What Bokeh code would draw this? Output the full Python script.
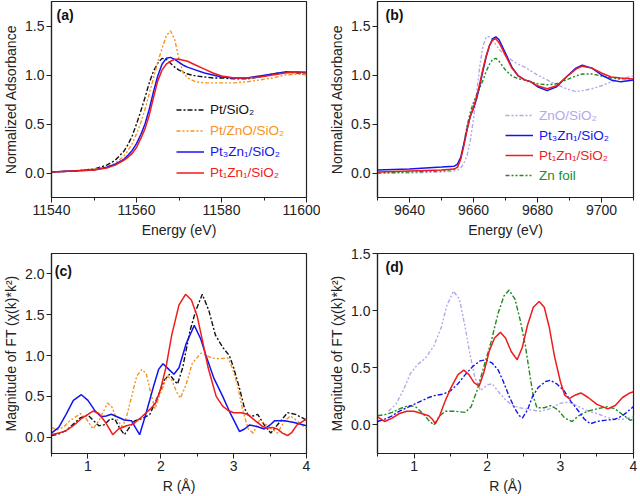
from bokeh.plotting import figure
from bokeh.models import Range1d, FixedTicker, NumeralTickFormatter, Legend, LegendItem, Label
from bokeh.layouts import gridplot
from bokeh.embed import file_html
from bokeh.resources import INLINE

FONT = "Liberation Sans"

# ---------------- Panel (a): Pt L3-edge XANES ----------------
ea = [11540, 11545, 11550, 11553, 11555, 11557, 11558, 11559, 11560, 11561, 11562, 11563,
      11564, 11565, 11566, 11567, 11568, 11569, 11570, 11571, 11572, 11574, 11576, 11578,
      11580, 11583, 11586, 11589, 11592, 11595, 11598, 11600]
a_pt = [0.01, 0.02, 0.04, 0.08, 0.13, 0.22, 0.29, 0.38, 0.50, 0.63, 0.77, 0.92,
        1.04, 1.12, 1.17, 1.16, 1.12, 1.08, 1.05, 1.03, 1.01, 0.99, 0.98, 0.97,
        0.97, 0.96, 0.96, 0.98, 1.01, 1.03, 1.02, 1.00]
a_ptzno = [0.01, 0.02, 0.04, 0.06, 0.10, 0.17, 0.23, 0.30, 0.40, 0.51, 0.65, 0.81,
           0.97, 1.13, 1.27, 1.40, 1.45, 1.36, 1.16, 1.02, 0.97, 0.93, 0.92, 0.92,
           0.92, 0.92, 0.93, 0.95, 0.97, 1.00, 1.01, 1.00]
a_pt3zn1 = [0.01, 0.02, 0.03, 0.06, 0.09, 0.14, 0.18, 0.23, 0.30, 0.39, 0.50, 0.65,
            0.83, 0.99, 1.11, 1.17, 1.18, 1.16, 1.13, 1.10, 1.08, 1.05, 1.02, 1.00,
            0.98, 0.97, 0.97, 0.99, 1.01, 1.03, 1.03, 1.02]
a_pt1zn1 = [0.01, 0.02, 0.03, 0.05, 0.08, 0.13, 0.16, 0.20, 0.26, 0.35, 0.45, 0.59,
            0.77, 0.94, 1.05, 1.11, 1.14, 1.16, 1.16, 1.15, 1.14, 1.10, 1.06, 1.02,
            0.99, 0.97, 0.97, 0.98, 1.00, 1.02, 1.03, 1.03]

# ---------------- Panel (b): Zn K-edge XANES ----------------
eb = [9630, 9640, 9650, 9654, 9655, 9656, 9657, 9658, 9659, 9660, 9661, 9662, 9663, 9664,
      9665, 9666, 9667, 9668, 9670, 9672, 9674, 9676, 9678, 9680, 9683, 9686, 9689, 9692,
      9694, 9697, 9700, 9703, 9706, 9710]
b_zno = [0.00, 0.00, 0.01, 0.02, 0.03, 0.05, 0.10, 0.18, 0.33, 0.55, 0.82, 1.10, 1.30, 1.39,
         1.39, 1.36, 1.31, 1.26, 1.20, 1.15, 1.11, 1.08, 1.04, 1.00, 0.95, 0.90, 0.86, 0.83,
         0.84, 0.86, 0.89, 0.93, 0.96, 0.99]
b_pt3zn1 = [0.03, 0.04, 0.06, 0.07, 0.09, 0.16, 0.30, 0.45, 0.58, 0.66, 0.76, 0.90, 1.05, 1.19,
            1.30, 1.37, 1.39, 1.36, 1.22, 1.08, 0.99, 0.95, 0.93, 0.88, 0.84, 0.88, 0.98, 1.07,
            1.10, 1.07, 1.00, 0.95, 0.93, 0.95]
b_pt1zn1 = [0.01, 0.02, 0.03, 0.04, 0.06, 0.14, 0.28, 0.44, 0.58, 0.67, 0.78, 0.92, 1.07, 1.20,
            1.30, 1.36, 1.37, 1.33, 1.20, 1.07, 0.99, 0.95, 0.93, 0.89, 0.86, 0.89, 0.98, 1.06,
            1.09, 1.07, 1.02, 0.98, 0.97, 0.96]
b_znfoil = [0.00, 0.01, 0.02, 0.04, 0.06, 0.15, 0.30, 0.48, 0.62, 0.72, 0.80, 0.87, 0.95, 1.04,
            1.11, 1.16, 1.17, 1.14, 1.05, 0.99, 0.96, 0.95, 0.93, 0.91, 0.90, 0.91, 0.95, 0.99,
            1.01, 1.01, 0.99, 0.97, 0.96, 0.96]

# ---------------- Panel (c): Pt FT-EXAFS ----------------
c_pt_r = [0.5, 0.6, 0.7, 0.8, 0.9, 1.0, 1.08, 1.15, 1.22, 1.3, 1.37, 1.43, 1.5, 1.57, 1.64, 1.75,
          1.85, 1.96, 2.05, 2.12, 2.18, 2.23, 2.3, 2.4, 2.48, 2.57, 2.66, 2.75, 2.85, 2.94, 3.0,
          3.08, 3.15, 3.2, 3.27, 3.33, 3.42, 3.51, 3.6, 3.74, 3.85, 4.0]
c_pt = [0.02, 0.04, 0.08, 0.16, 0.24, 0.27, 0.20, 0.14, 0.15, 0.22, 0.22, 0.12, 0.03, 0.12, 0.20, 0.23,
        0.28, 0.50, 0.70, 0.77, 0.70, 0.65, 0.85, 1.30, 1.55, 1.75, 1.55, 1.25, 1.10, 1.00, 0.85,
        0.60, 0.35, 0.27, 0.26, 0.28, 0.15, 0.05, 0.15, 0.30, 0.28, 0.21]
c_ptzno_r = [0.5, 0.58, 0.66, 0.75, 0.9, 0.98, 1.07, 1.15, 1.27, 1.33, 1.38, 1.47, 1.53, 1.6, 1.67,
             1.74, 1.8, 1.86, 1.92, 1.98, 2.09, 2.15, 2.22, 2.27, 2.35, 2.43, 2.55, 2.63, 2.7, 2.8,
             2.92, 2.98, 3.05, 3.12, 3.2, 3.27, 3.35, 3.45, 3.6, 3.7, 3.78, 3.9, 4.0]
c_ptzno = [0.12, 0.09, 0.12, 0.20, 0.29, 0.22, 0.10, 0.20, 0.42, 0.37, 0.25, 0.12, 0.25, 0.50, 0.75,
           0.83, 0.78, 0.55, 0.35, 0.50, 0.75, 0.70, 0.55, 0.48, 0.65, 0.90, 1.03, 1.00, 0.97, 0.96,
           0.97, 0.85, 0.65, 0.35, 0.10, 0.05, 0.20, 0.15, 0.05, 0.20, 0.26, 0.18, 0.10]
c_pt3zn1_r = [0.5, 0.6, 0.7, 0.8, 0.91, 1.0, 1.1, 1.18, 1.25, 1.32, 1.4, 1.5, 1.6, 1.65, 1.71, 1.8,
              1.9, 1.97, 2.03, 2.1, 2.18, 2.25, 2.35, 2.46, 2.55, 2.62, 2.73, 2.85, 2.95, 3.08,
              3.15, 3.22, 3.32, 3.42, 3.5, 3.56, 3.7, 3.83, 4.0]
c_pt3zn1 = [0.05, 0.12, 0.28, 0.45, 0.52, 0.45, 0.32, 0.25, 0.26, 0.28, 0.25, 0.21, 0.20, 0.12, 0.03, 0.30,
            0.62, 0.83, 0.90, 0.84, 0.77, 0.85, 1.15, 1.37, 1.20, 1.00, 0.72, 0.50, 0.30, 0.07,
            0.10, 0.15, 0.13, 0.10, 0.15, 0.20, 0.20, 0.18, 0.14]
c_pt1zn1_r = [0.5, 0.6, 0.7, 0.8, 0.9, 1.0, 1.07, 1.15, 1.25, 1.34, 1.42, 1.53, 1.62, 1.74, 1.85, 1.93,
              2.0, 2.07, 2.15, 2.25, 2.34, 2.42, 2.5, 2.58, 2.65, 2.76, 2.85, 2.92, 3.0, 3.1, 3.19,
              3.3, 3.4, 3.46, 3.53, 3.6, 3.67, 3.74, 3.8, 3.87, 4.0]
c_pt1zn1 = [0.03, 0.05, 0.08, 0.14, 0.22, 0.28, 0.32, 0.29, 0.17, 0.03, 0.10, 0.14, 0.16, 0.25, 0.34, 0.42,
            0.60, 0.85, 1.25, 1.62, 1.75, 1.68, 1.48, 1.15, 0.85, 0.50, 0.38, 0.33, 0.30, 0.30, 0.28,
            0.20, 0.13, 0.11, 0.12, 0.10, 0.05, 0.02, 0.06, 0.15, 0.22]

# ---------------- Panel (d): Zn FT-EXAFS ----------------
d_zno_r = [0.65, 0.75, 0.85, 0.95, 1.05, 1.15, 1.27, 1.37, 1.45, 1.54, 1.62, 1.7, 1.77, 1.83, 1.91,
           2.0, 2.07, 2.14, 2.25, 2.35, 2.45, 2.6, 2.73, 2.85, 3.0, 3.12, 3.25, 3.38, 3.5, 3.62,
           3.73, 3.85, 4.0]
d_zno = [0.12, 0.18, 0.30, 0.45, 0.53, 0.58, 0.69, 0.85, 1.05, 1.17, 1.10, 0.85, 0.60, 0.42, 0.30,
         0.35, 0.36, 0.30, 0.22, 0.17, 0.15, 0.13, 0.12, 0.14, 0.19, 0.20, 0.16, 0.12, 0.10, 0.07,
         0.05, 0.05, 0.07]
d_znfoil_r = [0.5, 0.6, 0.7, 0.8, 0.92, 1.02, 1.12, 1.2, 1.27, 1.35, 1.43, 1.55, 1.7, 1.78, 1.86, 1.95,
              2.05, 2.15, 2.23, 2.3, 2.38, 2.45, 2.52, 2.58, 2.63, 2.68, 2.78, 2.87, 2.97, 3.06,
              3.16, 3.25, 3.37, 3.5, 3.64, 3.75, 3.85, 3.96, 4.0]
d_znfoil = [0.08, 0.09, 0.11, 0.14, 0.17, 0.16, 0.10, 0.04, 0.00, 0.08, 0.12, 0.12, 0.11, 0.16, 0.30, 0.50,
            0.72, 0.98, 1.13, 1.18, 1.10, 0.92, 0.70, 0.45, 0.25, 0.15, 0.15, 0.17, 0.13, 0.06,
            0.03, 0.08, 0.12, 0.14, 0.16, 0.14, 0.09, 0.04, 0.05]
d_pt3zn1_r = [0.5, 0.6, 0.7, 0.8, 0.9, 1.0, 1.1, 1.2, 1.3, 1.4, 1.5, 1.6, 1.7, 1.8, 1.9, 1.98, 2.07,
              2.15, 2.22, 2.3, 2.38, 2.44, 2.48, 2.55, 2.62, 2.7, 2.8, 2.86, 2.95, 3.05, 3.15, 3.25,
              3.33, 3.41, 3.5, 3.6, 3.75, 3.85, 4.0]
d_pt3zn1 = [0.03, 0.05, 0.08, 0.12, 0.15, 0.18, 0.21, 0.24, 0.26, 0.27, 0.30, 0.36, 0.44, 0.51, 0.56, 0.57, 0.54,
            0.48, 0.38, 0.25, 0.14, 0.08, 0.06, 0.13, 0.25, 0.33, 0.38, 0.39, 0.36, 0.30, 0.20, 0.12,
            0.05, 0.01, 0.03, 0.04, 0.05, 0.08, 0.16]
d_pt1zn1_r = [0.5, 0.6, 0.7, 0.8, 0.9, 1.0, 1.1, 1.2, 1.25, 1.29, 1.35, 1.42, 1.5, 1.6, 1.68, 1.75, 1.82,
              1.89, 1.95, 2.03, 2.1, 2.18, 2.25, 2.33, 2.41, 2.48, 2.55, 2.63, 2.71, 2.78, 2.85, 2.92,
              3.0, 3.06, 3.12, 3.2, 3.28, 3.38, 3.5, 3.65, 3.75, 3.85, 3.95, 4.0]
d_pt1zn1 = [0.07, 0.03, 0.06, 0.10, 0.12, 0.12, 0.10, 0.08, 0.05, 0.01, 0.08, 0.20, 0.32, 0.44, 0.48, 0.44, 0.37,
            0.34, 0.45, 0.65, 0.76, 0.81, 0.76, 0.64, 0.57, 0.68, 0.87, 1.03, 1.08, 1.03, 0.85, 0.60,
            0.38, 0.26, 0.23, 0.26, 0.28, 0.24, 0.18, 0.14, 0.17, 0.24, 0.28, 0.29]

BLACK = "#111111"
ORANGE = "#F7931E"
BLUE = "#1414F0"
RED = "#EE1C1C"
LAV = "#B3A8EC"
GREEN = "#1E8C1E"
DASHDOT = "5 2 2 2"
DASHDOTDOT = "4 2 2 2 2 2"


def make_fig(w, h, xr, yr, xt, xminor, yt, mbl, mbr, mbt, mbb, ylabel, xlabel, xfmt):
    p = figure(width=w, height=h, x_range=Range1d(*xr), y_range=Range1d(*yr),
               output_backend="svg", toolbar_location=None,
               min_border_left=mbl, min_border_right=mbr, min_border_top=mbt, min_border_bottom=mbb)
    p.xgrid.visible = False
    p.ygrid.visible = False
    p.outline_line_color = "#222222"
    p.outline_line_width = 1.2
    p.background_fill_color = "white"
    p.border_fill_color = "white"
    for ax in [p.xaxis[0], p.yaxis[0]]:
        ax.major_tick_out = 5
        ax.major_tick_in = 0
        ax.minor_tick_out = 3
        ax.minor_tick_in = 0
        ax.axis_line_color = "#222222"
        ax.axis_line_width = 1.2
        ax.major_tick_line_color = "#222222"
        ax.minor_tick_line_color = "#222222"
        ax.major_label_text_font = FONT
        ax.major_label_text_font_size = "14px"
        ax.major_label_text_color = "#222222"
        ax.axis_label_text_font = FONT
        ax.axis_label_text_font_size = "14px"
        ax.axis_label_text_font_style = "normal"
        ax.axis_label_text_color = "#222222"
    p.xaxis[0].ticker = FixedTicker(ticks=xt, minor_ticks=xminor)
    p.xaxis[0].formatter = NumeralTickFormatter(format=xfmt)
    p.xaxis[0].major_label_standoff = 2
    p.xaxis[0].axis_label = xlabel
    p.xaxis[0].axis_label_standoff = 4
    p.yaxis[0].ticker = FixedTicker(ticks=yt, minor_ticks=[])
    p.yaxis[0].formatter = NumeralTickFormatter(format="0.0")
    p.yaxis[0].major_label_standoff = 2
    p.yaxis[0].axis_label = ylabel
    p.yaxis[0].axis_label_standoff = 3
    return p


def add_legend(p, entries, x0, ybottoms, row_h):
    for (label, r, col), yb in zip(entries, ybottoms):
        leg = Legend(items=[LegendItem(label=label, renderers=[r])], location=(x0, yb),
                     border_line_color=None, background_fill_alpha=0, padding=0, margin=0,
                     spacing=0, label_height=row_h, glyph_height=row_h, glyph_width=28,
                     label_standoff=6, label_text_font=FONT, label_text_font_size="13.5px",
                     label_text_color=col)
        p.add_layout(leg)


def panel_label(p, x, y, txt):
    p.add_layout(Label(x=x, y=y, text=txt, text_font=FONT, text_font_size="14px",
                       text_font_style="bold", text_color="#111111", text_baseline="middle"))


YL1 = "Normalized Adsorbance"
YL2 = "Magnitude of FT (\u03c7(k)*k\u00b2)"

# (a)
pa = make_fig(320, 246, (11540, 11600), (-0.25, 1.75), [11540, 11560, 11580, 11600],
              [11550, 11570, 11590], [0, 0.5, 1.0, 1.5], 50, 14, 1, 49, YL1, "Energy (eV)", "0")
ra1 = pa.line(ea, a_pt, line_color=BLACK, line_width=1.4, line_dash=DASHDOT)
ra2 = pa.line(ea, a_ptzno, line_color=ORANGE, line_width=1.4, line_dash=DASHDOTDOT)
ra3 = pa.line(ea, a_pt3zn1, line_color=BLUE, line_width=1.5)
ra4 = pa.line(ea, a_pt1zn1, line_color=RED, line_width=1.5)
add_legend(pa, [("Pt/SiO\u2082", ra1, BLACK), ("Pt/ZnO/SiO\u2082", ra2, ORANGE),
                ("Pt\u2083Zn\u2081/SiO\u2082", ra3, BLUE), ("Pt\u2081Zn\u2081/SiO\u2082", ra4, RED)],
           125, [77.5, 56.5, 35.5, 14.5], 21)
panel_label(pa, 11541.2, 1.61, "(a)")

# (b)
pb = make_fig(320, 246, (9630, 9710), (-0.25, 1.75), [9640, 9660, 9680, 9700],
              [9630, 9650, 9670, 9690, 9710], [0, 0.5, 1.0, 1.5], 57, 7, 1, 49, YL1, "Energy (eV)", "0")
rb1 = pb.line(eb, b_zno, line_color=LAV, line_width=1.4, line_dash=DASHDOTDOT)
rb4 = pb.line(eb, b_znfoil, line_color=GREEN, line_width=1.4, line_dash=DASHDOTDOT)
rb2 = pb.line(eb, b_pt3zn1, line_color=BLUE, line_width=1.5)
rb3 = pb.line(eb, b_pt1zn1, line_color=RED, line_width=1.5)
add_legend(pb, [("ZnO/SiO\u2082", rb1, LAV), ("Pt\u2083Zn\u2081/SiO\u2082", rb2, BLUE),
                ("Pt\u2081Zn\u2081/SiO\u2082", rb3, RED), ("Zn foil", rb4, GREEN)],
           128, [72, 52, 32, 12], 20)
panel_label(pb, 9632.5, 1.61, "(b)")

# (c)
pc = make_fig(320, 250, (0.5, 4.0), (-0.2, 2.25), [1, 2, 3, 4], [0.5, 1.5, 2.5, 3.5],
              [0, 0.5, 1.0, 1.5, 2.0], 50, 14, 7, 43, YL2, "R (\u00c5)", "0")
pc.line(c_pt_r, c_pt, line_color=BLACK, line_width=1.4, line_dash=DASHDOT)
pc.line(c_ptzno_r, c_ptzno, line_color=ORANGE, line_width=1.4, line_dash=DASHDOTDOT)
pc.line(c_pt3zn1_r, c_pt3zn1, line_color=BLUE, line_width=1.5)
pc.line(c_pt1zn1_r, c_pt1zn1, line_color=RED, line_width=1.5)
panel_label(pc, 0.545, 2.04, "(c)")

# (d)
pd_ = make_fig(320, 250, (0.5, 4.0), (-0.25, 1.5), [1, 2, 3, 4], [0.5, 1.5, 2.5, 3.5],
               [0, 0.5, 1.0, 1.5], 57, 7, 7, 43, YL2, "R (\u00c5)", "0")
pd_.line(d_zno_r, d_zno, line_color=LAV, line_width=1.4, line_dash=DASHDOTDOT)
pd_.line(d_znfoil_r, d_znfoil, line_color=GREEN, line_width=1.4, line_dash=DASHDOT)
pd_.line(d_pt3zn1_r, d_pt3zn1, line_color=BLUE, line_width=1.4, line_dash=DASHDOT)
pd_.line(d_pt1zn1_r, d_pt1zn1, line_color=RED, line_width=1.5)
panel_label(pd_, 0.61, 1.38, "(d)")

grid = gridplot([[pa, pb], [pc, pd_]], toolbar_location=None)
open("out.html", "w").write(file_html(grid, INLINE))
